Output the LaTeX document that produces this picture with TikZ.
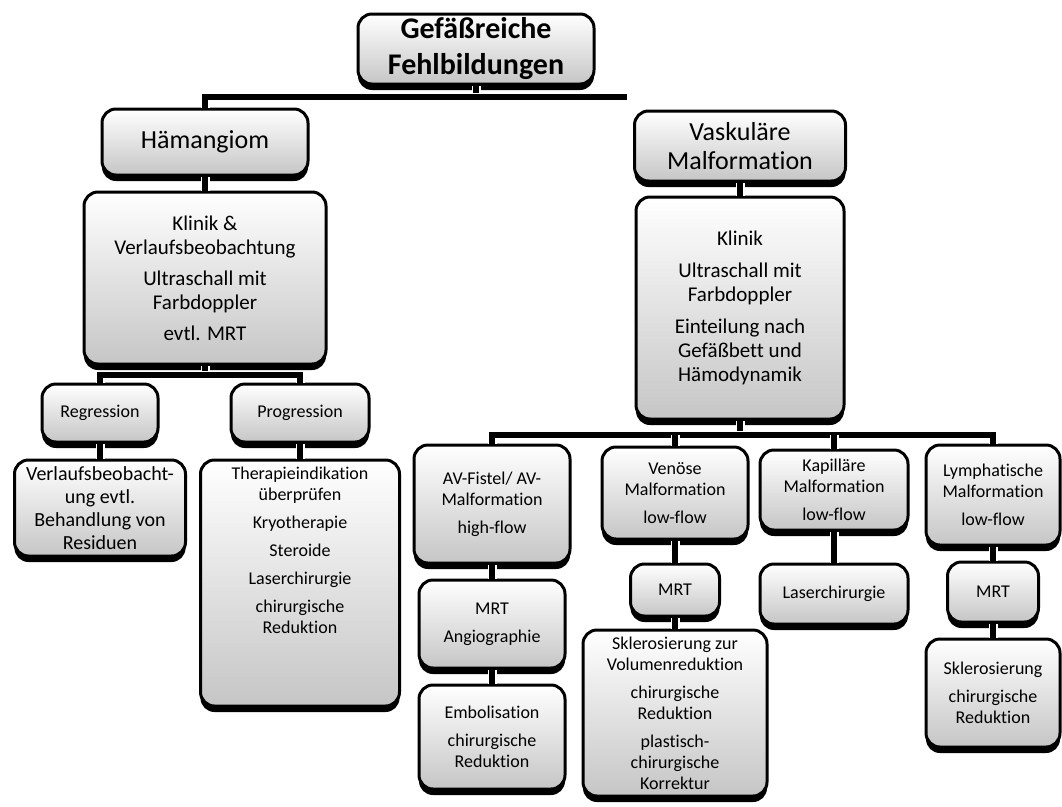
\documentclass[tikz,border=0pt]{standalone}
\usepackage{fontspec}
\setmainfont{Carlito}[Ligatures=NoCommon, RawFeature={-liga;-clig;-calt;-dlig}]
\usetikzlibrary{shadows}

\tikzset{
  kasten/.style={rectangle, rounded corners=14pt, draw=black, line width=3pt,
    top color=white, bottom color=gray!45, align=center, inner sep=2pt,
    general shadow={fill=black, shadow yshift=-6pt}},
  linie/.style={draw=black, line width=6pt,
    preaction={draw=white, line width=9pt}},
  ftitel/.style={font=\fontsize{30}{36}\selectfont\bfseries},
  fgross/.style={font=\fontsize{26}{29}\selectfont},
  fmittel/.style={font=\fontsize{21}{24}\selectfont},
  fklein/.style={font=\fontsize{18}{21}\selectfont}
}

\begin{document}
\begin{tikzpicture}[x=1pt, y=-1pt]
  \useasboundingbox (0,0) rectangle (1062,806);

  % Ebene 1 und 2
  \node[kasten, ftitel, minimum width=236, minimum height=70] (titel) at (476,49)
    {Gefäßreiche\\Fehlbildungen};
  \node[kasten, fgross, minimum width=206, minimum height=66] (haem) at (205,142)
    {Hämangiom};
  \node[kasten, fgross, minimum width=211, minimum height=70] (vask) at (740,146)
    {Vaskuläre\\Malformation};

  % Hämangiom
  \node[kasten, fmittel, minimum width=242, minimum height=172] (klinikL) at (205,278)
    {Klinik \&\\Verlaufsbeobachtung\\[7pt]Ultraschall mit\\Farbdoppler\\[7pt]evtl. MRT};
  \node[kasten, fklein, minimum width=116, minimum height=58] (regr) at (100,413)
    {Regression};
  \node[kasten, fklein, minimum width=138, minimum height=58] (progr) at (300,413)
    {Progression};
  \node[kasten, font=\fontsize{20}{23}\selectfont, minimum width=171, minimum height=96] (verl) at (100,508)
    {Verlaufsbeobacht-\\ung evtl.\\Behandlung von\\Residuen};
  \node[kasten, fklein, minimum width=199, minimum height=246, text depth=66pt] (thera) at (300,583)
    {Therapieindikation\\überprüfen\\[7pt]Kryotherapie\\[7pt]Steroide\\[7pt]Laserchirurgie\\[7pt]chirurgische\\Reduktion};

  % Vaskuläre Malformation
  \node[kasten, fmittel, minimum width=208, minimum height=222] (klinikR) at (740,308)
    {Klinik\\[8pt]Ultraschall mit\\Farbdoppler\\[8pt]Einteilung nach\\Gefäßbett und\\Hämodynamik};
  \node[kasten, fklein, minimum width=156, minimum height=118] (av) at (492,504)
    {AV-Fistel/ AV-\\Malformation\\[7pt]high-flow};
  \node[kasten, fklein, minimum width=146, minimum height=88] (mrtA) at (492,624)
    {MRT\\[7pt]Angiographie};
  \node[kasten, fklein, minimum width=146, minimum height=104] (embo) at (492,737)
    {Embolisation\\[7pt]chirurgische\\Reduktion};
  \node[kasten, fklein, minimum width=146, minimum height=92] (ven) at (675,493)
    {Venöse\\Malformation\\[7pt]low-flow};
  \node[kasten, fklein, minimum width=89, minimum height=52] (mrtV) at (675,590)
    {MRT};
  \node[kasten, fklein, minimum width=184, minimum height=166] (skler) at (675,713)
    {Sklerosierung zur\\Volumenreduktion\\[7pt]chirurgische\\Reduktion\\[7pt]plastisch-\\chirurgische\\Korrektur};
  \node[kasten, fklein, minimum width=148, minimum height=80] (kap) at (834,490)
    {Kapilläre\\Malformation\\[7pt]low-flow};
  \node[kasten, fklein, minimum width=148, minimum height=60] (laser) at (834,594)
    {Laserchirurgie};
  \node[kasten, fklein, minimum width=134, minimum height=100] (lymph) at (993,495)
    {Lymphatische\\Malformation\\[7pt]low-flow};
  \node[kasten, fklein, minimum width=91, minimum height=60] (mrtL) at (993,592)
    {MRT};
  \node[kasten, fklein, minimum width=134, minimum height=108] (sklerL) at (993,693)
    {Sklerosierung\\[7pt]chirurgische\\Reduktion};

  % Verbindungen
  \coordinate (b1) at (0,97);
  \coordinate (b2) at (0,375);
  \coordinate (b3) at (0,435);
  \coordinate (vaskEnde) at (627,97);

  \draw[linie] (titel.south) -- (titel.south |- b1);
  \draw[linie] (haem.north) |- (vaskEnde);
  \draw[linie] (haem.south) -- (klinikL.north);
  \draw[linie] (klinikL.south) -- (klinikL.south |- b2);
  \draw[linie] (regr.north) |- (progr.north |- b2) -- (progr.north);
  \draw[linie] (regr.south) -- (verl.north);
  \draw[linie] (progr.south) -- (thera.north);

  \draw[linie] (vask.south) -- (klinikR.north);
  \draw[linie] (klinikR.south) -- (klinikR.south |- b3);
  \draw[linie] (av.north) |- (lymph.north |- b3) -- (lymph.north);
  \draw[linie] (ven.north) -- (ven.north |- b3);
  \draw[linie] (kap.north) -- (kap.north |- b3);

  \draw[linie] (av.south) -- (mrtA.north);
  \draw[linie] (mrtA.south) -- (embo.north);
  \draw[linie] (ven.south) -- (mrtV.north);
  \draw[linie] (mrtV.south) -- (skler.north);
  \draw[linie] (kap.south) -- (laser.north);
  \draw[linie] (lymph.south) -- (mrtL.north);
  \draw[linie] (mrtL.south) -- (sklerL.north);

\end{tikzpicture}
\end{document}
